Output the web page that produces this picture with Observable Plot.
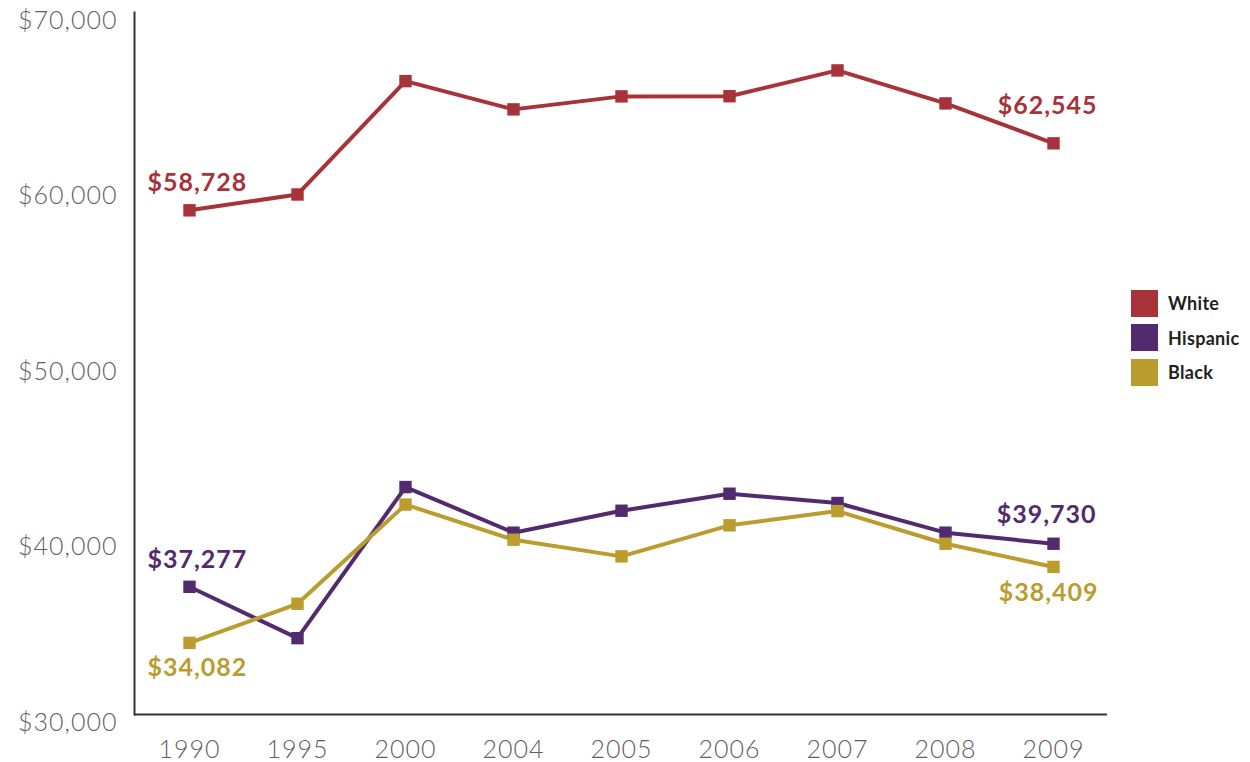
<!DOCTYPE html>
<html>
<head>
<meta charset="utf-8">
<script src="https://cdn.jsdelivr.net/npm/d3@7"></script>
<script src="https://cdn.jsdelivr.net/npm/@observablehq/plot@0.6"></script>
<style>
  html, body { margin: 0; padding: 0; background: #fff; }
  #wrap { position: relative; width: 1250px; height: 762px; }
  #legend { position: absolute; left: 1131px; top: 290px; font-family: Lato, "Open Sans", sans-serif; font-weight: 700; font-size: 18px; color: #231f20; letter-spacing: 0.3px; }
  .item { display: flex; align-items: center; height: 26px; margin-bottom: 8.5px; }
  .sw { width: 27px; height: 27px; margin-right: 10px; }
  svg text { letter-spacing: 1px; }
</style>
</head>
<body>
<div id="wrap"></div>
<script>
const years = ["1990", "1995", "2000", "2004", "2005", "2006", "2007", "2008", "2009"];
const seriesNames = ["White", "Hispanic", "Black"];
const seriesColors = ["#a83239", "#522a6e", "#bb9d2f"];
const white = [58728, 59630, 66090, 64480, 65220, 65230, 66700, 64820, 62545];
const hispanic = [37277, 34350, 42960, 40360, 41610, 42580, 42050, 40360, 39730];
const black = [34082, 36310, 41960, 39960, 39010, 40780, 41590, 39730, 38409];
const yTicks = [30000, 40000, 50000, 60000, 70000];

const seriesValues = [white, hispanic, black];
const data = [];
seriesNames.forEach((s, i) => years.forEach((y, j) => data.push({series: s, year: y, value: seriesValues[i][j]})));

const fmt = d => "$" + d3.format(",")(d);
const first = (s) => data.filter(d => d.series === s && d.year === years[0]);
const last = (s) => data.filter(d => d.series === s && d.year === years[years.length - 1]);
const colorOf = (s) => seriesColors[seriesNames.indexOf(s)];
const label = (s, rows, opts) => Plot.text(rows, {x: "year", y: "value", text: d => fmt(d.value), fill: colorOf(s), fontSize: 25, fontWeight: 700, fontFamily: "Lato, 'Open Sans', sans-serif", ...opts});

const chart = Plot.plot({
  width: 1250,
  height: 762,
  marginLeft: 134,
  marginRight: 143,
  marginTop: 12,
  marginBottom: 48,
  style: {fontFamily: "Lato, 'Open Sans', sans-serif", background: "#fff"},
  x: {type: "point", domain: years, padding: 0.5},
  y: {domain: [30000, 70000]},
  color: {domain: seriesNames, range: seriesColors},
  marks: [
    Plot.axisY({ticks: yTicks, tickSize: 0, tickPadding: 17, dy: 8, tickFormat: fmt, fontSize: 25, fill: "#5f6062", label: null, fontWeight: 300}),
    Plot.axisX({tickSize: 0, tickPadding: 26, fontSize: 25, fill: "#5f6062", label: null, fontWeight: 300}),
    Plot.ruleY([30000], {stroke: "#333", strokeWidth: 2}),
    Plot.frame({anchor: "left", stroke: "#333", strokeWidth: 2}),
    Plot.line(data, {x: "year", y: "value", z: "series", stroke: "series", strokeWidth: 4}),
    Plot.dot(data, {x: "year", y: "value", fill: "series", symbol: "square", r: 7, stroke: "none"}),
    label("White", first("White"), {textAnchor: "start", dx: -42, dy: -27}),
    label("White", last("White"), {textAnchor: "end", dx: 44, dy: -37}),
    label("Hispanic", first("Hispanic"), {textAnchor: "start", dx: -42, dy: -27}),
    label("Hispanic", last("Hispanic"), {textAnchor: "end", dx: 43, dy: -29}),
    label("Black", first("Black"), {textAnchor: "start", dx: -42, dy: 25}),
    label("Black", last("Black"), {textAnchor: "end", dx: 45, dy: 26})
  ]
});

const wrap = document.getElementById("wrap");
wrap.appendChild(chart);
const legend = document.createElement("div");
legend.id = "legend";
seriesNames.forEach((s, i) => {
  const item = document.createElement("div");
  item.className = "item";
  const sw = document.createElement("div");
  sw.className = "sw";
  sw.style.background = seriesColors[i];
  const t = document.createElement("span");
  t.textContent = s;
  item.appendChild(sw);
  item.appendChild(t);
  legend.appendChild(item);
});
wrap.appendChild(legend);
</script>
</body>
</html>
